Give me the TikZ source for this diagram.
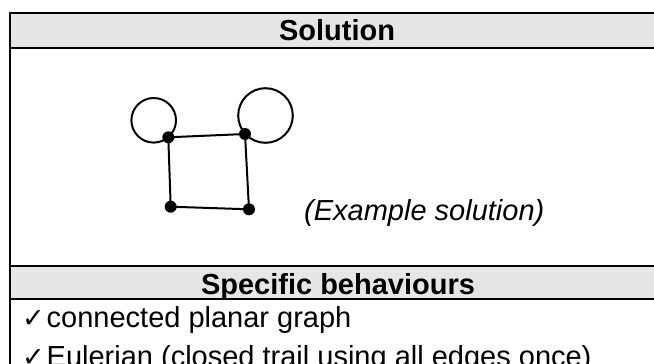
\documentclass[tikz,border=0pt]{standalone}
\usepackage{fontspec}
\setmainfont{Liberation Sans}
\newfontfamily\symfont{DejaVu Sans}
\definecolor{hdrgray}{HTML}{E6E6E6}
\tikzset{
  rule/.style={line width=2pt, line cap=rect},
  hdrfill/.style={fill=hdrgray, draw=none},
  hdrtext/.style={font=\fontsize{29}{34}\selectfont\bfseries, inner sep=0pt, anchor=base},
  bodytext/.style={font=\fontsize{29}{34}\selectfont, inner sep=0pt, anchor=base west},
  itext/.style={font=\fontsize{29}{34}\selectfont\itshape, inner sep=0pt, anchor=base west},
  tick/.style={font=\symfont\fontsize{27}{32}\selectfont, inner sep=0pt, anchor=base west},
  vertex/.style={circle, fill=black, inner sep=0pt, minimum size=12pt},
  edge/.style={line width=2pt},
}
\begin{document}
\begin{tikzpicture}[x=1pt,y=-1pt]
\useasboundingbox (0,0) rectangle (654,364);
\clip (0,0) rectangle (654,364);
% header fills
\fill[hdrfill] (9.5,13) rectangle (680,47.5);
\fill[hdrfill] (9.5,265.5) rectangle (680,299);
% rules
\draw[rule] (9.5,13) -- (680,13);
\draw[rule] (9.5,47.5) -- (680,47.5);
\draw[rule] (9.5,265.5) -- (680,265.5);
\draw[rule] (9.5,299) -- (680,299);
\draw[rule] (9.5,13) -- (9.5,380);
% header texts
\node[hdrtext] (h1) at (337,40.5) {Solution};
\node[hdrtext] (h2) at (338,294) {Specific behaviours};
% graph
\node[vertex] (tl) at (168.3,137.3) {};
\node[vertex] (tr) at (245,134) {};
\node[vertex] (bl) at (170.7,206.7) {};
\node[vertex] (br) at (249,209.3) {};
\draw[edge] (tl.center) -- (tr.center) -- (br.center) -- (bl.center) -- cycle;
\path (tl.center) ++(-14.6,-17) coordinate (lc);
\path (tr.center) ++(20.5,-18.5) coordinate (rc);
\draw[edge] (lc) circle[radius=22.3pt];
\draw[edge] (rc) circle[radius=27.3pt];
% example label
\node[itext] (ex) at (304,220) {(Example solution)};
% criteria
\node[tick] (c1) at (22,327) {✓};
\node[bodytext] (t1) at (46.5,327) {connected planar graph};
\node[tick] (c2) at (22,366) {✓};
\node[bodytext] (t2) at (46.5,366) {Eulerian (closed trail using all edges once)};
\end{tikzpicture}
\end{document}
